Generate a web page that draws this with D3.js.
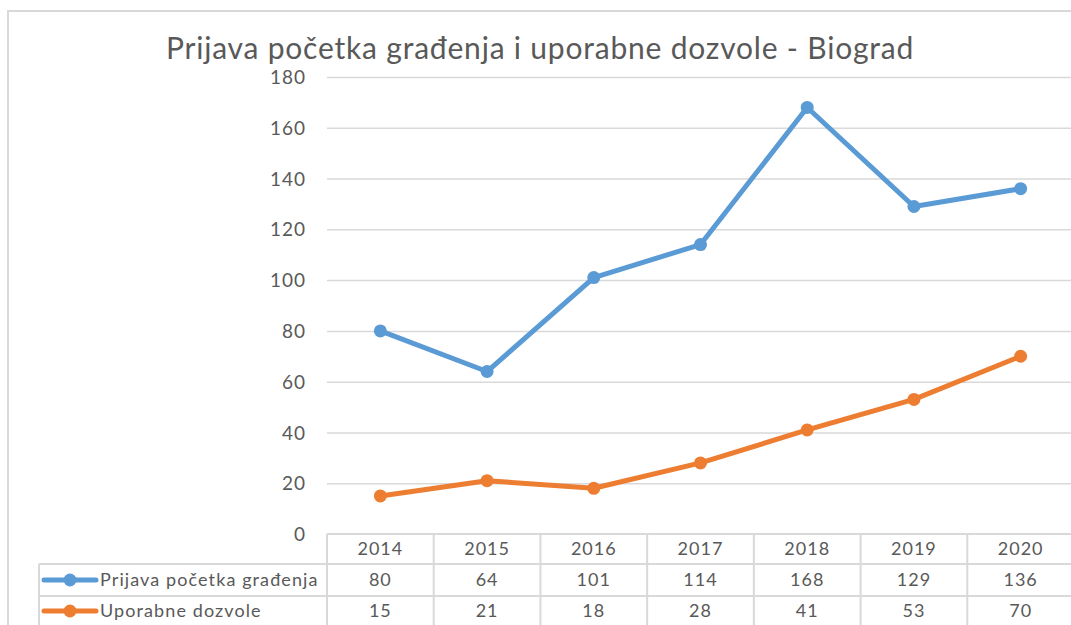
<!DOCTYPE html>
<html>
<head>
<meta charset="utf-8">
<script src="https://cdn.jsdelivr.net/npm/d3@7"></script>
<style>
  body { margin: 0; background: #fff; }
  svg text { font-family: Lato, "Open Sans", sans-serif; fill: #595959; }
</style>
</head>
<body>
<svg width="1071" height="625"></svg>
<script>
const years = ["2014", "2015", "2016", "2017", "2018", "2019", "2020"]
const prijava = [80, 64, 101, 114, 168, 129, 136]
const uporabne = [15, 21, 18, 28, 41, 53, 70]
const yTicks = [0, 20, 40, 60, 80, 100, 120, 140, 160, 180]
const seriesNames = ["Prijava početka građenja", "Uporabne dozvole"]
const seriesColors = ["#5b9bd5", "#ed7d31"]
const title = "Prijava početka građenja i uporabne dozvole - Biograd"

const svg = d3.select("svg")
const width = +svg.attr("width")
const height = +svg.attr("height")

const margin = {top: 77, left: 327, right: -3, bottom: 91}
const innerWidth = width - margin.left - margin.right
const innerHeight = height - margin.top - margin.bottom
const gridColor = "#d9d9d9"

// chart frame
svg.append("path")
  .attr("d", `M8,${height + 5} V11 H${width + 5}`)
  .attr("fill", "none")
  .attr("stroke", gridColor)
  .attr("stroke-width", 2)

svg.append("text")
  .attr("x", 540)
  .attr("y", 59)
  .attr("text-anchor", "middle")
  .attr("font-size", 30)
  .attr("letter-spacing", 0.8)
  .text(title)

const xScale = d3.scaleBand()
  .domain(years)
  .range([0, innerWidth])

const yScale = d3.scaleLinear()
  .domain([0, 180])
  .range([innerHeight, 0])

const g = svg.append("g")
  .attr("transform", `translate(${margin.left}, ${margin.top})`)

const yAxis = d3.axisLeft(yScale)
  .tickValues(yTicks)
  .tickSize(-innerWidth)
  .tickPadding(21)

const yAxisG = g.append("g").call(yAxis)
yAxisG.selectAll(".domain").remove()
yAxisG.selectAll(".tick line")
  .attr("stroke", gridColor)
  .attr("stroke-width", 1.5)
yAxisG.selectAll(".tick text")
  .attr("font-size", 19)
  .attr("letter-spacing", 1)
  .attr("dy", "0.35em")
  .style("font-family", "Lato, sans-serif")
  .attr("fill", "#595959")
yAxisG.selectAll(".tick").filter(d => d === 0).select("line").remove()

// data table
const tableTop = innerHeight
const legendLeft = 39 - margin.left
const rows = [prijava, uporabne]
const fs = 18

const tableG = g.append("g")
  .attr("stroke", gridColor)
  .attr("stroke-width", 2)
  .attr("fill", "none")

// horizontal lines
tableG.append("line")
  .attr("x1", 0).attr("x2", innerWidth + 5)
  .attr("y1", tableTop).attr("y2", tableTop)
;[30, 62].forEach(off => {
  tableG.append("line")
    .attr("x1", legendLeft).attr("x2", innerWidth + 5)
    .attr("y1", tableTop + off).attr("y2", tableTop + off)
})
// vertical lines
years.forEach(y => {
  tableG.append("line")
    .attr("x1", xScale(y)).attr("x2", xScale(y))
    .attr("y1", tableTop).attr("y2", height)
})
tableG.append("line")
  .attr("x1", legendLeft).attr("x2", legendLeft)
  .attr("y1", tableTop + 30).attr("y2", height)

const rowY = [tableTop + 15, tableTop + 46, tableTop + 77]

g.selectAll(".year-label").data(years)
  .enter().append("text")
  .attr("class", "year-label")
  .attr("x", d => xScale(d) + xScale.bandwidth() / 2)
  .attr("y", rowY[0])
  .attr("dy", "0.35em")
  .attr("text-anchor", "middle")
  .attr("font-size", fs)
  .attr("letter-spacing", 1)
  .text(d => d)

rows.forEach((vals, i) => {
  g.selectAll(`.val-${i}`).data(vals)
    .enter().append("text")
    .attr("class", `val-${i}`)
    .attr("x", (d, j) => xScale(years[j]) + xScale.bandwidth() / 2)
    .attr("y", rowY[i + 1])
    .attr("dy", "0.35em")
    .attr("text-anchor", "middle")
    .attr("font-size", fs)
    .attr("letter-spacing", 1)
    .text(d => d)

  // legend key
  const ly = rowY[i + 1]
  g.append("line")
    .attr("x1", legendLeft + 5).attr("x2", legendLeft + 57)
    .attr("y1", ly).attr("y2", ly)
    .attr("stroke", seriesColors[i])
    .attr("stroke-width", 5)
    .attr("stroke-linecap", "round")
  g.append("circle")
    .attr("cx", legendLeft + 31).attr("cy", ly)
    .attr("r", 6.5)
    .attr("fill", seriesColors[i])
  g.append("text")
    .attr("x", legendLeft + 61)
    .attr("y", ly)
    .attr("dy", "0.35em")
    .attr("font-size", fs)
    .attr("letter-spacing", 1.1)
    .text(seriesNames[i])
})

// lines
const line = d3.line()
  .x((d, i) => xScale(years[i]) + xScale.bandwidth() / 2)
  .y(d => yScale(d))

rows.forEach((vals, i) => {
  g.append("path")
    .datum(vals)
    .attr("d", line)
    .attr("fill", "none")
    .attr("stroke", seriesColors[i])
    .attr("stroke-width", 5)
    .attr("stroke-linejoin", "round")
    .attr("stroke-linecap", "round")

  g.selectAll(`.pt-${i}`).data(vals)
    .enter().append("circle")
    .attr("class", `pt-${i}`)
    .attr("cx", (d, j) => xScale(years[j]) + xScale.bandwidth() / 2)
    .attr("cy", d => yScale(d))
    .attr("r", 6.5)
    .attr("fill", seriesColors[i])
})
</script>
</body>
</html>
